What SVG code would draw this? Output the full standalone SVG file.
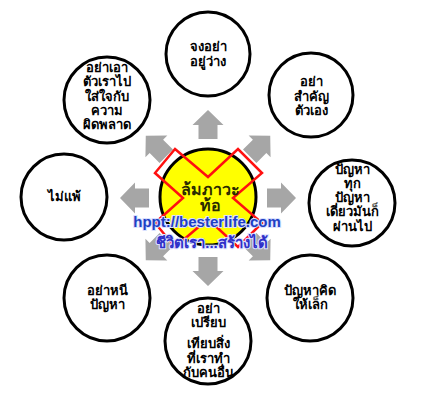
<svg xmlns="http://www.w3.org/2000/svg" width="437" height="416" viewBox="0 0 437 416">
<style>
.n{fill:#fff;stroke:#000;stroke-width:3}
.t{font-family:"Liberation Sans","Noto Sans",sans-serif;font-weight:bold;font-size:13px;fill:#000;text-anchor:middle}
.arr{fill:#a6a6a6}
</style>
<defs>
<path id="ar" class="arr" d="M59,-9.5 L73,-9.5 L73,-15.5 L88,0 L73,15.5 L73,9.5 L59,9.5 Z"/>
</defs>
<rect width="437" height="416" fill="#fff"/>
<g id="connectors">
<use href="#ar" transform="translate(208,198) rotate(-90)"/>
<use href="#ar" transform="translate(208,198) rotate(-45)"/>
<use href="#ar" transform="translate(208,198) rotate(0)"/>
<use href="#ar" transform="translate(208,198) rotate(45)"/>
<use href="#ar" transform="translate(208,198) rotate(90)"/>
<use href="#ar" transform="translate(208,198) rotate(135)"/>
<use href="#ar" transform="translate(208,198) rotate(180)"/>
<use href="#ar" transform="translate(208,198) rotate(225)"/>
</g>
<g id="n-top">
<circle class="n" cx="208" cy="54" r="42"/>
<text class="t" x="208"><tspan x="208" y="51">จงอย่า</tspan><tspan x="208" y="66">อยู่ว่าง</tspan></text>
</g>
<g id="n-topright">
<circle class="n" cx="311" cy="95" r="42"/>
<text class="t"><tspan x="311" y="86">อย่า</tspan><tspan x="311" y="101">สำคัญ</tspan><tspan x="311" y="115">ตัวเอง</tspan></text>
</g>
<g id="n-right">
<circle class="n" cx="352" cy="203" r="43"/>
<text class="t"><tspan x="352" y="174">ปัญหา</tspan><tspan x="352" y="188">ทุก</tspan><tspan x="352" y="202">ปัญหา</tspan><tspan x="352" y="216">เดี่ยวมันก็</tspan><tspan x="352" y="231">ผ่านไป</tspan></text>
</g>
<g id="n-bottomright">
<circle class="n" cx="310" cy="298" r="43"/>
<text class="t"><tspan x="310" y="295">ปัญหาคิด</tspan><tspan x="310" y="309">ให้เล็ก</tspan></text>
</g>
<g id="n-bottom">
<circle class="n" cx="208" cy="341" r="43"/>
<text class="t"><tspan x="208" y="313">อย่า</tspan><tspan x="208" y="327">เปรียบ</tspan><tspan x="208" y="348">เทียบสิ่ง</tspan><tspan x="208" y="363">ที่เราทำ</tspan><tspan x="208" y="377">กับคนอื่น</tspan></text>
</g>
<g id="n-bottomleft">
<circle class="n" cx="107" cy="298" r="43"/>
<text class="t"><tspan x="107" y="295">อย่าหนี</tspan><tspan x="107" y="309">ปัญหา</tspan></text>
</g>
<g id="n-left">
<circle class="n" cx="64" cy="197" r="43"/>
<text class="t" x="64" y="201">ไม่แพ้</text>
</g>
<g id="n-topleft">
<circle class="n" cx="107" cy="100" r="43"/>
<text class="t"><tspan x="107" y="72">อย่าเอา</tspan><tspan x="107" y="86">ตัวเราไป</tspan><tspan x="107" y="101">ใส่ใจกับ</tspan><tspan x="107" y="115">ความ</tspan><tspan x="107" y="129">ผิดพลาด</tspan></text>
</g>
<g id="n-center">
<circle cx="208" cy="197" r="48" fill="#ffff00" stroke="#000" stroke-width="3"/>
<polygon points="175,149 208,177 238,149 262,173 233,198 262,223 238,247 208,219 175,247 155,223 183,198 155,173" fill="none" stroke="#ff1010" stroke-width="2.5" stroke-linejoin="miter"/>
<text class="t" style="font-size:16px;fill:#2a2a00"><tspan x="210" y="195">ล้มภาวะ</tspan><tspan x="210" y="211">ท้อ</tspan></text>
<text x="207" y="227" style="font-family:'Liberation Sans',Arial,sans-serif;font-weight:bold;font-size:15px;fill:#1f3fc4;text-anchor:middle;stroke:#d8e0ff;stroke-width:2;paint-order:stroke">hppt://besterlife.com</text>
<text x="212" y="248" style="font-family:'Liberation Sans','Noto Sans',sans-serif;font-weight:bold;font-size:15px;fill:#3030c8;text-anchor:middle;stroke:#dde2ff;stroke-width:2;paint-order:stroke">ชีวิตเรา...สร้างได้</text>
</g>
</svg>
